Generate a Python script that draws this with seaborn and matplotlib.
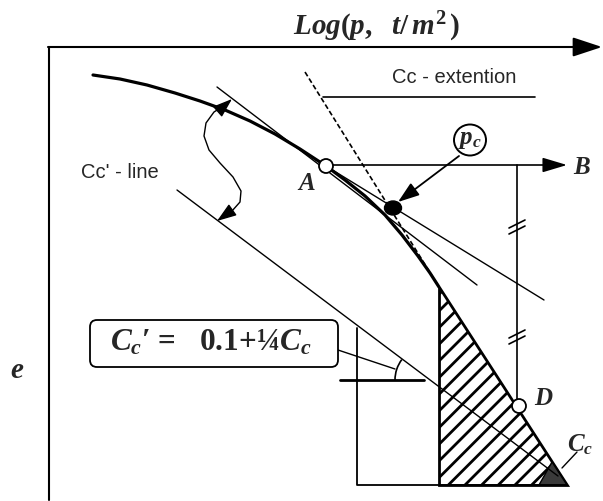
import matplotlib
matplotlib.use('Agg')
import matplotlib.pyplot as plt
from matplotlib.patches import Polygon, Circle, Ellipse, FancyBboxPatch, Arc
import seaborn as sns
import pandas as pd

sns.set_theme(style="white")
plt.rcParams['font.family'] = ['Liberation Sans', 'DejaVu Sans']
plt.rcParams['mathtext.fontset'] = 'custom'
plt.rcParams['mathtext.rm'] = 'Liberation Serif:bold'
plt.rcParams['mathtext.it'] = 'Liberation Serif:italic:bold'
plt.rcParams['mathtext.bf'] = 'Liberation Serif:bold'
plt.rcParams['hatch.linewidth'] = 2.0

# --- 図のデータ（ピクセル座標, y は下向き） ---
# e-log p 曲線
curve_x = [93, 120, 147, 175, 200, 225, 250, 275, 300, 326, 345, 365, 385, 402, 418, 430, 439]
curve_y = [75, 79, 85, 93, 101, 110, 121, 134, 149, 166, 180, 196, 215, 235, 256, 273, 287]

# 直線群
tangent_x, tangent_y = [217, 477], [87, 285]
bisect_x, bisect_y = [326, 544], [166, 300]
ccext_x, ccext_y = [305, 439], [72, 287]
cc1_x, cc1_y = [177, 558], [190, 476]
underline_x, underline_y = [323, 535], [97, 97]
vert_x, vert_y = [517, 517], [165, 406]

# 斜線部（Cc 三角形）と外枠
tri_x = [439, 439, 567]
tri_y = [287, 485, 485]
dark_x = [539, 567, 552]
dark_y = [485, 485, 462]
frame_x = [357, 357, 567]
frame_y = [328, 485, 485]
hline_x, hline_y = [340, 424], [380, 380]

# 点
pt_A = (326, 166)
pt_pc = (393, 208)
pt_D = (519, 406)

# 波形の双方向矢印
wave_x = [225, 214, 206, 204, 209, 220, 233, 241, 240, 232, 223]
wave_y = [105, 112, 123, 136, 150, 163, 177, 191, 202, 211, 217]

# 二重の目盛り
tick_y = [227, 337]

fig = plt.figure(figsize=(6.03, 5.01), dpi=100)
ax = fig.add_axes([0, 0, 1, 1])
ax.set_xlim(0, 603)
ax.set_ylim(501, 0)
ax.set_aspect('equal')
ax.axis('off')

k = 'black'
serif = ['Liberation Serif', 'DejaVu Serif']

# 軸
ax.plot([49, 49], [47, 500], color=k, lw=1.5)
ax.annotate('', xy=(602, 47), xytext=(48, 47),
            arrowprops=dict(arrowstyle='-|>,head_length=1.0,head_width=0.33',
                            mutation_scale=18, lw=1.5, color=k, shrinkA=0, shrinkB=0))

# 斜線三角形
ax.add_patch(Polygon(list(zip(tri_x, tri_y)), closed=True, facecolor='white',
                     edgecolor=k, hatch='//', lw=2.0))
ax.add_patch(Polygon(list(zip(dark_x, dark_y)), closed=True, facecolor='#3a3a3a',
                     edgecolor=k, lw=1.0))
ax.plot(frame_x, frame_y, color=k, lw=1.3)
ax.plot(hline_x, hline_y, color=k, lw=2.0)

# 曲線
sns.lineplot(x=curve_x, y=curve_y, sort=False, color=k, lw=2.3, ax=ax)

# 直線
ax.plot(tangent_x, tangent_y, color=k, lw=1.0)
ax.plot(bisect_x, bisect_y, color=k, lw=1.0)
ax.plot(ccext_x, ccext_y, color=k, lw=1.2, ls=(0, (3, 1.6)))
ax.plot(cc1_x, cc1_y, color=k, lw=1.0)
ax.plot(underline_x, underline_y, color=k, lw=1.2)
ax.plot(vert_x, vert_y, color=k, lw=1.2)

for ty in tick_y:
    for off in (-3, 3):
        ax.plot([517 - 8, 517 + 8], [ty + 4 + off, ty - 4 + off], color=k, lw=1.2)

# B 方向の矢印
ax.annotate('', xy=(567, 165), xytext=(pt_A[0], 165),
            arrowprops=dict(arrowstyle='-|>,head_length=1.0,head_width=0.3',
                            mutation_scale=15, lw=1.2, color=k, shrinkA=0, shrinkB=0))

# pc への矢印
ax.annotate('', xy=(398, 202), xytext=(459, 156),
            arrowprops=dict(arrowstyle='-|>,head_length=1.0,head_width=0.35',
                            mutation_scale=13, lw=1.3, color=k, shrinkA=0, shrinkB=0))

# 波形矢印
ax.plot(wave_x, wave_y, color=k, lw=1.0)
ax.annotate('', xy=(232, 99), xytext=(224, 106),
            arrowprops=dict(arrowstyle='-|>,head_length=1.0,head_width=0.35',
                            mutation_scale=12, lw=1.0, color=k, shrinkA=0, shrinkB=0))
ax.annotate('', xy=(217, 221), xytext=(224, 216),
            arrowprops=dict(arrowstyle='-|>,head_length=1.0,head_width=0.35',
                            mutation_scale=12, lw=1.0, color=k, shrinkA=0, shrinkB=0))

# 角度の円弧と引出線
ax.add_patch(Arc((429, 380), 68, 68, theta1=180, theta2=217, color=k, lw=1.2))
ax.plot([338, 395], [350, 369], color=k, lw=1.0)

# 点
ax.add_patch(Circle(pt_A, 7, facecolor='white', edgecolor=k, lw=1.3, zorder=5))
ax.add_patch(Circle(pt_D, 7, facecolor='white', edgecolor=k, lw=1.3, zorder=5))
ax.add_patch(Ellipse(pt_pc, 17, 14, facecolor=k, edgecolor=k, zorder=5))
ax.add_patch(Ellipse((470, 140), 32, 31, facecolor='white', edgecolor=k, lw=1.4, zorder=5))
ax.plot([577, 562], [452, 468], color=k, lw=1.0)

# ボックス
ax.add_patch(FancyBboxPatch((90, 320), 248, 47, boxstyle='round,pad=0,rounding_size=7',
                            facecolor='white', edgecolor=k, lw=1.3, zorder=4))

# テキスト
ax.text(377, 27, r'$Log(p,\ \ t/\,m^2\,)$', fontsize=21, ha='center', va='center')
ax.text(17, 370, r'$e$', fontsize=21, ha='center', va='center')
ax.text(306, 183, r'$A$', fontsize=18, ha='center', va='center')
ax.text(582, 167, r'$B$', fontsize=18, ha='center', va='center')
ax.text(544, 398, r'$D$', fontsize=18, ha='center', va='center')
ax.text(580, 445, r'$C_c$', fontsize=18, ha='center', va='center')
ax.text(470, 139, r'$p_c$', fontsize=18, ha='center', va='center', zorder=6)
ax.text(211, 343, r"$C_c$′ =   0.1+¼$C_c$", fontsize=22.5, family=serif, weight='bold',
        ha='center', va='center', zorder=6)
ax.text(392, 77, 'Cc - extention', fontsize=14.5, ha='left', va='center')
ax.text(81, 173, "Cc' - line", fontsize=14.5, ha='left', va='center')

fig.savefig('out.png', dpi=100)
